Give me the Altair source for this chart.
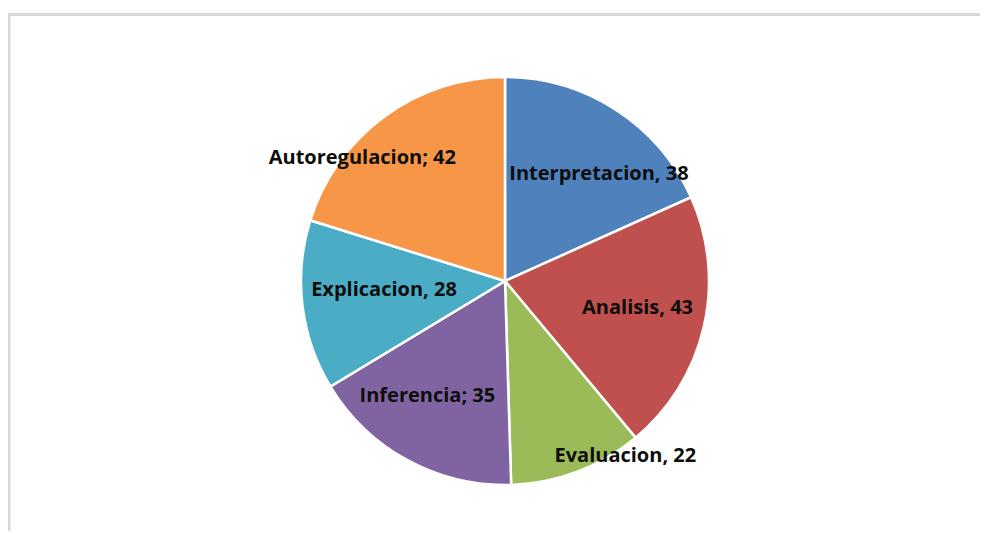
import altair as alt
import pandas as pd

categories = ["Interpretacion", "Analisis", "Evaluacion", "Inferencia", "Explicacion", "Autoregulacion"]
values = [38, 43, 22, 35, 28, 42]
separators = [",", ",", ",", ";", ",", ";"]
colors = ["#4F81BD", "#C0504D", "#9BBB59", "#8064A2", "#4BACC6", "#F79646"]

df = pd.DataFrame({
    "categoria": categories,
    "valor": values,
    "orden": list(range(len(categories))),
    "etiqueta": [f"{c}{s} {v}" for c, s, v in zip(categories, separators, values)],
})

# layout / style (not data)
CX, CY = 497, 273
R = 204
label_place = {
    "Interpretacion": dict(radius=127, dx=25, dy=0),
    "Analisis": dict(radius=136, dx=0, dy=-4),
    "Evaluacion": dict(radius=187, dx=54, dy=0),
    "Inferencia": dict(radius=131, dx=-15, dy=0),
    "Explicacion": dict(radius=136, dx=14, dy=-7),
    "Autoregulacion": dict(radius=153, dx=-52, dy=0),
}

base = alt.Chart(df)

pie = base.mark_arc(outerRadius=R, stroke="white", strokeWidth=2.5).encode(
    theta=alt.Theta("valor:Q", stack=True),
    color=alt.Color("categoria:N", scale=alt.Scale(domain=categories, range=colors), legend=None),
    order=alt.Order("orden:Q"),
    x=alt.value(CX),
    y=alt.value(CY),
)

labels = []
for cat in categories:
    p = label_place[cat]
    lyr = (
        base.transform_window(
            cum="sum(valor)", sort=[alt.SortField("orden")], frame=[None, 0]
        )
        .transform_calculate(mid="datum.cum - datum.valor / 2")
        .transform_filter(alt.datum.categoria == cat)
        .mark_text(
            radius=p["radius"], dx=p["dx"], dy=p["dy"],
            font="Open Sans", fontSize=20, fontWeight="bold", color="#0d0d0d",
            align="center", baseline="middle",
        )
        .encode(
            theta=alt.Theta("mid:Q", stack=None),
            text="etiqueta:N",
            x=alt.value(CX),
            y=alt.value(CY),
        )
    )
    labels.append(lyr)

frame_df = pd.DataFrame({"k": [0]})
left_line = alt.Chart(frame_df).mark_rule(color="#d9d9d9", strokeWidth=3).encode(
    x=alt.value(1), y=alt.value(5.5), y2=alt.value(523)
)
top_line = alt.Chart(frame_df).mark_rule(color="#d9d9d9", strokeWidth=3).encode(
    x=alt.value(0), x2=alt.value(972), y=alt.value(6.5)
)

chart = alt.layer(left_line, top_line, pie, *labels).properties(
    width=972, height=523, autosize=alt.AutoSizeParams(type="none"), padding=0
).configure_view(stroke=None)

chart.save("out.html", embed_options={"renderer": "svg", "actions": False})
